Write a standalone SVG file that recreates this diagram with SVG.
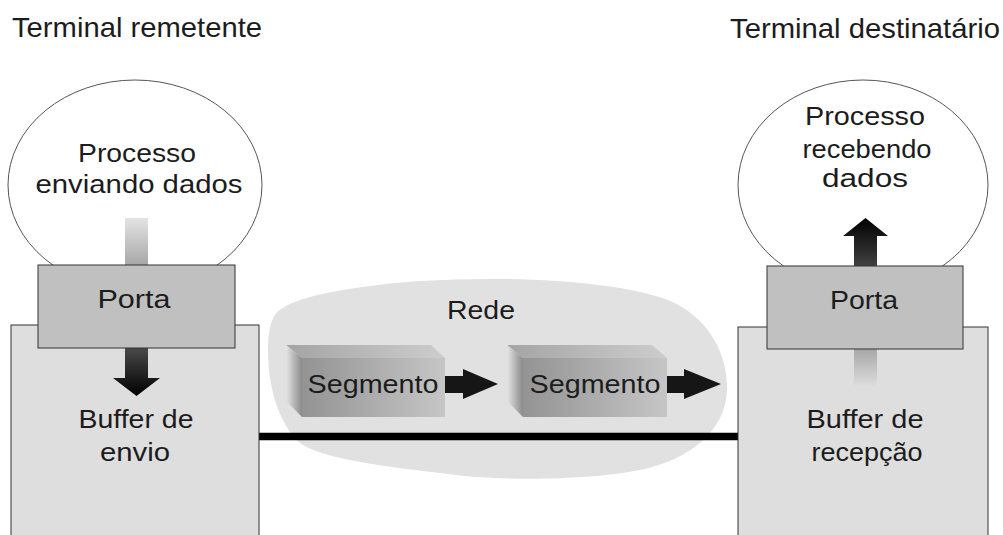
<svg xmlns="http://www.w3.org/2000/svg" width="1003" height="535" viewBox="0 0 1003 535">
  <style>
    text { font-family: "Liberation Sans", Arial, sans-serif; fill: #1c1c1c; text-anchor: middle; }
    .title { font-size: 28px; text-anchor: start; }
    .lbl { font-size: 26px; }
    .host { fill: #dedede; stroke: #333; stroke-width: 1; }
    .port { fill: #c0c0c0; stroke: #333; stroke-width: 1; }
    .proc { fill: #fff; stroke: #555; stroke-width: 1; }
    .net { fill: #e1e1e1; }
    .hop { fill: #161616; }
  </style>
  <defs>
    <linearGradient id="segFront" x1="0" y1="0" x2="1" y2="0">
      <stop offset="0" stop-color="#939393"/>
      <stop offset="1" stop-color="#c6c6c6"/>
    </linearGradient>
    <linearGradient id="segTop" x1="0" y1="0" x2="1" y2="0">
      <stop offset="0" stop-color="#a4a4a4"/>
      <stop offset="1" stop-color="#cdcdcd"/>
    </linearGradient>
    <linearGradient id="segSide" x1="0" y1="0" x2="1" y2="0">
      <stop offset="0" stop-color="#e4e4e4"/>
      <stop offset="1" stop-color="#8a8a8a"/>
    </linearGradient>
    <linearGradient id="sendFlow" gradientUnits="userSpaceOnUse" x1="0" y1="218" x2="0" y2="396">
      <stop offset="0" stop-color="#e4e4e4"/>
      <stop offset="0.27" stop-color="#a6a6a6"/>
      <stop offset="0.72" stop-color="#4c4c4c"/>
      <stop offset="1" stop-color="#000"/>
    </linearGradient>
    <linearGradient id="recvFlow" gradientUnits="userSpaceOnUse" x1="0" y1="387" x2="0" y2="218">
      <stop offset="0" stop-color="#dedede"/>
      <stop offset="0.22" stop-color="#a8a8a8"/>
      <stop offset="0.72" stop-color="#404040"/>
      <stop offset="1" stop-color="#000"/>
    </linearGradient>
  </defs>

  <rect width="1003" height="535" fill="#fff"/>

  <!-- network cloud -->
  <g id="rede">
    <path class="net" d="M275,315 C285,300 330,288 420,281 C520,275 620,282 668,300 C705,315 728,350 727,390 C726,430 690,460 640,470 C590,480 500,482 440,473 C380,466 320,458 300,443 C280,425 268,390 268,350 C268,335 270,322 275,315 Z"/>
    <text class="lbl" x="481" y="319" textLength="68" lengthAdjust="spacingAndGlyphs">Rede</text>
  </g>

  <!-- connectors: link and segment hops -->
  <g id="connectors">
    <line x1="259" y1="436.5" x2="738" y2="436.5" stroke="#000" stroke-width="7.5"/>
    <polygon class="hop" points="445,376 463,376 463,369 498,384 463,399 463,393 445,393"/>
    <polygon class="hop" points="667,376 684,376 684,369 721,384 684,399 684,393 667,393"/>
  </g>

  <!-- segments in transit -->
  <g id="segmento1">
    <polygon fill="url(#segTop)" points="286,345 431,345 445,358 302,358"/>
    <polygon fill="url(#segSide)" points="286,345 302,358 302,417 286,401"/>
    <rect x="302" y="358" width="143" height="59" fill="url(#segFront)"/>
    <text class="lbl" x="373" y="393" textLength="131" lengthAdjust="spacingAndGlyphs">Segmento</text>
  </g>
  <g id="segmento2">
    <polygon fill="url(#segTop)" points="507,345 652,345 667,358 523,358"/>
    <polygon fill="url(#segSide)" points="507,345 523,358 523,417 507,401"/>
    <rect x="523" y="358" width="144" height="59" fill="url(#segFront)"/>
    <text class="lbl" x="595" y="393" textLength="131" lengthAdjust="spacingAndGlyphs">Segmento</text>
  </g>

  <!-- sending host -->
  <g id="remetente">
    <text class="title" x="12" y="37" textLength="250" lengthAdjust="spacingAndGlyphs">Terminal remetente</text>
    <rect class="host" x="11" y="325" width="248" height="215"/>
    <ellipse class="proc" cx="135" cy="185" rx="127" ry="105"/>
    <text class="lbl" x="137" y="162" textLength="118" lengthAdjust="spacingAndGlyphs">Processo</text>
    <text class="lbl" x="139" y="193" textLength="207" lengthAdjust="spacingAndGlyphs">enviando dados</text>
    <polygon fill="url(#sendFlow)" points="125,218 148,218 148,378 160,378 136.5,396 113,378 125,378"/>
    <rect class="port" x="38" y="265" width="197" height="83"/>
    <text class="lbl" x="134" y="308" textLength="73" lengthAdjust="spacingAndGlyphs">Porta</text>
    <text class="lbl" x="136" y="428" textLength="115" lengthAdjust="spacingAndGlyphs">Buffer de</text>
    <text class="lbl" x="135" y="461" textLength="70" lengthAdjust="spacingAndGlyphs">envio</text>
  </g>

  <!-- receiving host -->
  <g id="destinatario">
    <text class="title" x="730" y="38" textLength="270" lengthAdjust="spacingAndGlyphs">Terminal destinatário</text>
    <rect class="host" x="738" y="327" width="250" height="213"/>
    <ellipse class="proc" cx="863" cy="185" rx="125" ry="105"/>
    <text class="lbl" x="865" y="125" textLength="120" lengthAdjust="spacingAndGlyphs">Processo</text>
    <text class="lbl" x="867" y="158" textLength="129" lengthAdjust="spacingAndGlyphs">recebendo</text>
    <text class="lbl" x="865" y="187" textLength="86" lengthAdjust="spacingAndGlyphs">dados</text>
    <polygon fill="url(#recvFlow)" points="854,387 877,387 877,236 888,236 865.5,218 843,236 854,236"/>
    <rect class="port" x="767" y="266" width="196" height="83"/>
    <text class="lbl" x="864" y="309" textLength="68" lengthAdjust="spacingAndGlyphs">Porta</text>
    <text class="lbl" x="865" y="428" textLength="117" lengthAdjust="spacingAndGlyphs">Buffer de</text>
    <text class="lbl" x="867" y="461" textLength="111" lengthAdjust="spacingAndGlyphs">recepção</text>
  </g>
</svg>
